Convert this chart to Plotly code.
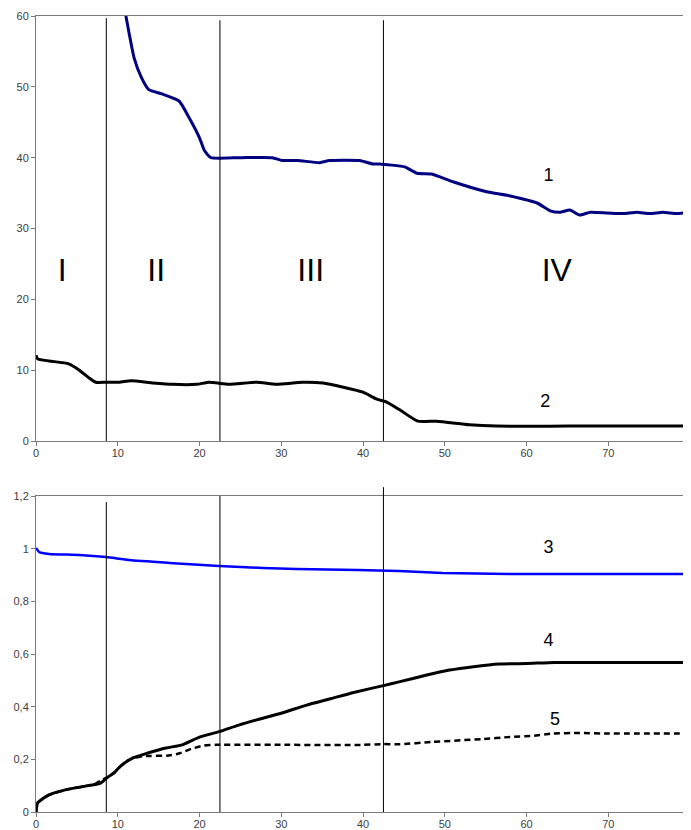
import plotly.graph_objects as go
from plotly.subplots import make_subplots

# ---- data ----
c1_x = [10.8, 11.0, 11.4, 12.0, 12.9, 13.8, 15.4, 17.5, 18.75, 20.0, 20.6, 21.4, 25.0, 28.9, 30.1, 32.0, 34.7,
        35.9, 39.6, 41.2, 42.0, 45.1, 46.6, 48.4, 51.0, 55.1, 58.0, 61.3, 62.9, 64.1, 65.3, 66.5, 67.8, 69.9,
        71.8, 73.5, 75.1, 76.7, 78.4, 80.0]
c1_y = [61.5, 60.0, 57.5, 54.1, 51.3, 49.6, 49.0, 48.0, 45.6, 42.8, 41.0, 40.0, 40.0, 40.0, 39.6, 39.6, 39.3,
        39.6, 39.6, 39.1, 39.1, 38.7, 37.8, 37.7, 36.6, 35.2, 34.6, 33.6, 32.5, 32.3, 32.6, 31.9, 32.3, 32.2,
        32.1, 32.3, 32.1, 32.3, 32.1, 32.3]

c2_x = [0.0, 0.2, 1.6, 4.0, 5.3, 6.5, 7.3, 8.6, 10.2, 11.6, 14.3, 16.7, 19.6, 21.2, 23.6, 27.0, 29.4, 32.6,
        35.1, 37.6, 40.0, 41.7, 42.9, 44.5, 46.7, 49.0, 53.0, 56.3, 65.0, 80.0]
c2_y = [12.1, 11.6, 11.3, 10.9, 10.0, 8.9, 8.3, 8.3, 8.3, 8.5, 8.2, 8.0, 8.0, 8.3, 8.0, 8.3, 8.0, 8.3,
        8.2, 7.6, 6.9, 5.9, 5.5, 4.4, 2.8, 2.8, 2.3, 2.1, 2.1, 2.1]

c3_x = [0.0, 0.4, 1.6, 5.3, 8.6, 11.4, 16.3, 22.4, 27.7, 31.8, 39.3, 44.4, 49.7, 57.9, 70.0, 80.0]
c3_y = [1.003, 0.987, 0.980, 0.976, 0.968, 0.957, 0.946, 0.934, 0.927, 0.923, 0.919, 0.915, 0.908, 0.904,
        0.904, 0.904]

c4_x = [0.0, 0.2, 0.8, 1.6, 3.7, 5.8, 7.9, 8.6, 9.6, 10.2, 11.0, 11.8, 12.8, 13.8, 15.9, 17.9, 20.0, 22.4,
        24.8, 27.0, 30.0, 33.0, 36.0, 39.0, 42.5, 44.4, 47.8, 50.6, 53.5, 56.7, 60.0, 63.4, 70.0, 80.0]
c4_y = [0.0, 0.035, 0.05, 0.065, 0.085, 0.097, 0.110, 0.128, 0.15, 0.17, 0.19, 0.205, 0.215, 0.225, 0.243,
        0.255, 0.284, 0.305, 0.33, 0.35, 0.375, 0.405, 0.43, 0.455, 0.48, 0.494, 0.52, 0.539, 0.552, 0.562,
        0.564, 0.568, 0.568, 0.568]

c5_x = [0.0, 0.2, 0.8, 1.6, 3.7, 5.8, 7.3, 8.0, 8.6, 9.6, 10.4, 11.2, 12.0, 13.0, 14.0, 16.0, 17.5, 19.0,
        20.5, 22.0, 30.0, 40.0, 42.5, 44.4, 48.5, 54.6, 58.0, 60.7, 63.2, 66.5, 70.0, 80.0]
c5_y = [0.0, 0.035, 0.05, 0.065, 0.085, 0.097, 0.108, 0.12, 0.13, 0.15, 0.175, 0.195, 0.205, 0.212, 0.213,
        0.214, 0.222, 0.24, 0.252, 0.255, 0.255, 0.255, 0.258, 0.257, 0.266, 0.277, 0.285, 0.289, 0.298,
        0.300, 0.298, 0.298]

boundaries = [8.6, 22.5, 42.5]
top_line_tops = [59.7, 59.4, 59.4]
bot_line_tops = [1.177, 1.2, 1.2]

stage_labels = ["I", "II", "III", "IV"]
stage_x = [3.2, 14.7, 33.6, 63.7]
stage_y = 23.7

curve_labels_top = ["1", "2"]
curve_labels_top_x = [62.7, 62.3]
curve_labels_top_y = [37.3, 5.4]
curve_labels_bot = ["3", "4", "5"]
curve_labels_bot_x = [62.7, 62.7, 63.5]
curve_labels_bot_y = [0.999, 0.649, 0.346]

x_ticks = [0, 10, 20, 30, 40, 50, 60, 70, 80]
y1_ticks = [0, 10, 20, 30, 40, 50, 60]
y2_ticks = [0, 0.2, 0.4, 0.6, 0.8, 1.0, 1.2]
y2_ticktext = ["0", "0,2", "0,4", "0,6", "0,8", "1", "1,2"]

FONT = "Liberation Sans, Arial, sans-serif"

fig = make_subplots(rows=2, cols=1, vertical_spacing=0.0)

fig.add_trace(go.Scatter(x=c1_x, y=c1_y, mode="lines", line=dict(color="#000080", width=3, shape="spline", smoothing=0.5)), row=1, col=1)
fig.add_trace(go.Scatter(x=c2_x, y=c2_y, mode="lines", line=dict(color="#000000", width=3, shape="spline", smoothing=0.5)), row=1, col=1)
for bx, top in zip(boundaries, top_line_tops):
    fig.add_trace(go.Scatter(x=[bx, bx], y=[0, top], mode="lines", line=dict(color="#000000", width=1)), row=1, col=1)

fig.add_trace(go.Scatter(x=c3_x, y=c3_y, mode="lines", line=dict(color="#0000FF", width=2.5, shape="spline", smoothing=0.5)), row=2, col=1)
fig.add_trace(go.Scatter(x=c4_x, y=c4_y, mode="lines", line=dict(color="#000000", width=3, shape="spline", smoothing=0.5)), row=2, col=1)
fig.add_trace(go.Scatter(x=c5_x, y=c5_y, mode="lines", line=dict(color="#000000", width=2.5, dash="6px,4px", shape="spline", smoothing=0.5)), row=2, col=1)
for bx, top in zip(boundaries, bot_line_tops):
    fig.add_trace(go.Scatter(x=[bx, bx], y=[0, top], mode="lines", line=dict(color="#000000", width=1)), row=2, col=1)
# small overhang of the last boundary line above the lower plot
fig.add_shape(type="line", xref="x2", yref="y2 domain", x0=boundaries[2], x1=boundaries[2], y0=1.0, y1=1.028,
              line=dict(color="#000000", width=1))

fig.add_trace(go.Scatter(x=stage_x, y=[stage_y] * len(stage_x), mode="text", text=stage_labels,
                         textfont=dict(family=FONT, size=32, color="#000000"), cliponaxis=False), row=1, col=1)
fig.add_trace(go.Scatter(x=curve_labels_top_x, y=curve_labels_top_y, mode="text", text=curve_labels_top,
                         textfont=dict(family=FONT, size=18, color="#000000"), cliponaxis=False), row=1, col=1)
fig.add_trace(go.Scatter(x=curve_labels_bot_x, y=curve_labels_bot_y, mode="text", text=curve_labels_bot,
                         textfont=dict(family=FONT, size=18, color="#000000"), cliponaxis=False), row=2, col=1)

axis_common = dict(showgrid=False, zeroline=False, showline=True, linecolor="#7a7a7a", linewidth=1, mirror=True,
                   ticks="outside", ticklen=4, tickcolor="#7a7a7a", automargin=False,
                   tickfont=dict(family=FONT, size=11, color="#404040"))

fig.update_xaxes(range=[0, 80], tickvals=x_ticks, domain=[0, 1], ticklabeloverflow="allow",
                 ticklabelstandoff=-2, **axis_common)
fig.update_yaxes(**axis_common)
# figure sits 8px in from the page's top-left corner (default body margin)
H = 822
fig.update_yaxes(range=[0, 60], tickvals=y1_ticks, domain=[1 - (433 - 8) / (H - 8 - 18), 1.0], row=1, col=1)
fig.update_yaxes(range=[0, 1.2], tickvals=y2_ticks, ticktext=y2_ticktext,
                 domain=[0.0, 1 - (488 - 8) / (H - 8 - 18)], row=2, col=1)

fig.update_layout(width=683, height=H, margin=dict(l=28, r=1, t=8, b=18, autoexpand=False), showlegend=False,
                  plot_bgcolor="white", paper_bgcolor="white", font=dict(family=FONT))

fig.write_html("out.html")
